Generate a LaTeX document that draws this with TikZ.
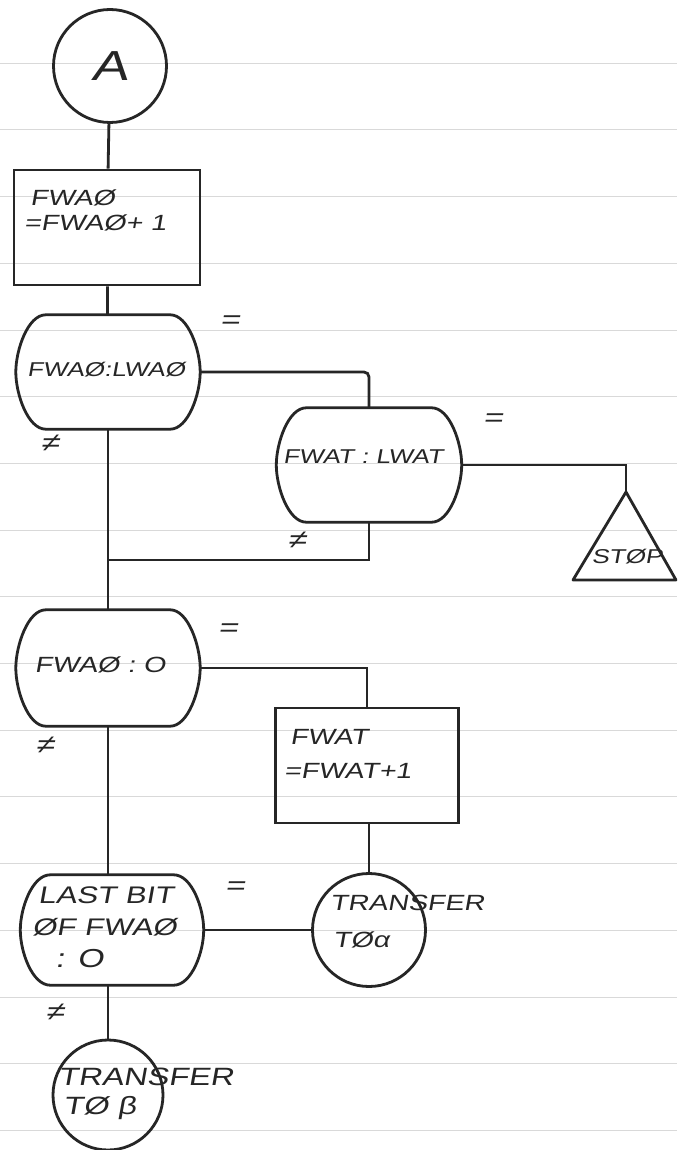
\documentclass[tikz,border=0pt]{standalone}
\usepackage{fontspec}
\setmainfont{Liberation Sans}
\newfontfamily\handfont[FakeStretch=1.3, FakeSlant=0.18]{Liberation Sans}
\tikzset{
  ink/.style={line width=2.8pt, draw=black!85},
  procbox/.style={ink, rectangle, minimum width=186, minimum height=115, inner sep=0},
  testbox/.style={rectangle, minimum width=184, minimum height=114, inner sep=0},
  connector/.style={ink, circle, minimum size=113, inner sep=0},
  hand/.style={font=\handfont\fontsize{22}{26}\selectfont, text=black!85, inner sep=0},
  small/.style={hand, font=\handfont\fontsize{20}{24}\selectfont},
  branchlbl/.style={hand, font=\handfont\fontsize{26}{26}\selectfont},
  flow/.style={ink}
}
% outline of a decision box: flat top and bottom, curved sides
\newcommand\testoutline[1]{%
  \draw[ink] ([xshift=30pt]#1.north west) -- ([xshift=-30pt]#1.north east)
    .. controls ([xshift=-12pt]#1.north east) and ([yshift=22pt]#1.east) .. (#1.east)
    .. controls ([yshift=-22pt]#1.east) and ([xshift=-12pt]#1.south east) .. ([xshift=-30pt]#1.south east)
    -- ([xshift=30pt]#1.south west)
    .. controls ([xshift=12pt]#1.south west) and ([yshift=-22pt]#1.west) .. (#1.west)
    .. controls ([yshift=22pt]#1.west) and ([xshift=12pt]#1.north west) .. cycle;}
\begin{document}
\begin{tikzpicture}[x=1pt, y=-1pt]
  \useasboundingbox (0,0) rectangle (677,1150);
  \fill[white] (0,0) rectangle (677,1150);
  % ruled paper
  \foreach \k in {0,...,16}
    \draw[gray!30, line width=0.6pt] (0,{63+66.7*\k}) -- (677,{63+66.7*\k});

  % entry connector
  \node[connector, font=\handfont\fontsize{42}{42}\selectfont, text=black!85] (A) at (110,66) {A};

  % FWAO = FWAO + 1
  \node[procbox] (inc0) at (107,227.5) {};
  \node[hand, anchor=west] (inc0a) at (30,198) {FWAØ};
  \node[hand, anchor=west] (inc0b) at (24,223) {=FWAØ+ 1};

  % FWAO : LWAO
  \node[testbox] (d1) at (108,372) {};
  \testoutline{d1}
  \node[small] (d1t) at (106,370) {FWAØ:LWAØ};

  % FWAT : LWAT
  \node[testbox, minimum width=185] (d2) at (369,465) {};
  \testoutline{d2}
  \node[small] (d2t) at (363,457) {FWAT : LWAT};

  % stop
  \coordinate (stopapex) at (626,492);
  \draw[ink, line join=round] (stopapex) -- (573,580) -- (676,580) -- cycle;
  \node[small] (stop) at (627,557) {STØP};

  \coordinate (join) at (108,560);

  % FWAO : 0
  \node[testbox, minimum height=116] (d3) at (108,668) {};
  \testoutline{d3}
  \node[hand] (d3t) at (100,665) {FWAØ : O};

  % FWAT = FWAT + 1
  \node[procbox, minimum width=183] (inc1) at (367,765.5) {};
  \node[hand, anchor=west] (inc1a) at (290,737) {FWAT};
  \node[hand, anchor=west] (inc1b) at (284,771) {=FWAT+1};

  % transfer to alpha
  \node[connector] (Ta) at (369,930) {};
  \node[hand, anchor=west] (Tat1) at (330,903) {TRANSFER};
  \node[hand, anchor=west] (Tat2) at (333,940) {TØα};

  % last bit of FWAO : 0
  \node[testbox, minimum width=183, minimum height=110] (d4) at (112,930) {};
  \testoutline{d4}
  \node[hand, anchor=west, font=\handfont\fontsize{24}{28}\selectfont] (d4a) at (38,895) {LAST BIT};
  \node[hand, anchor=west, font=\handfont\fontsize{24}{28}\selectfont] (d4b) at (32,927) {ØF FWAØ};
  \node[hand, anchor=west, font=\handfont\fontsize{26}{28}\selectfont] (d4c) at (55,959) {: O};

  % transfer to beta
  \node[connector, minimum size=110] (Tb) at (108,1095) {};
  \node[hand, anchor=west, font=\handfont\fontsize{25}{28}\selectfont] (Tbt1) at (58,1077) {TRANSFER};
  \node[hand, anchor=west, font=\handfont\fontsize{25}{28}\selectfont] (Tbt2) at (63,1108) {TØ β};

  % flow lines
  \draw[flow] (A) -- (inc0);
  \draw[flow] (inc0) -- (d1);
  \draw[flow, rounded corners=5pt] (d1.east) -| (d2.north);
  \draw[flow] (d2.east) -| (stopapex);
  \draw[flow] (d2.south) |- (join);
  \draw[flow] (d1.south) -- (d3.north);
  \draw[flow] (d3.east) -| (inc1.north);
  \draw[flow] (inc1.south -| Ta.north) -- (Ta.north);
  \draw[flow] (d3.south) -- (d4.north -| d3.south);
  \draw[flow] (d4.east) -- (Ta.west);
  \draw[flow] (d4.south -| Tb.north) -- (Tb.north);

  % branch labels
  \node[branchlbl] (eq1) at (230,322) {=};
  \node[branchlbl] (ne1) at (50,443) {≠};
  \node[branchlbl] (eq2) at (493,420) {=};
  \node[branchlbl] (ne2) at (297,540) {≠};
  \node[branchlbl] (eq3) at (228,630) {=};
  \node[branchlbl] (ne3) at (45,745) {≠};
  \node[branchlbl] (eq4) at (235,888) {=};
  \node[branchlbl] (ne4) at (55,1012) {≠};
\end{tikzpicture}
\end{document}
